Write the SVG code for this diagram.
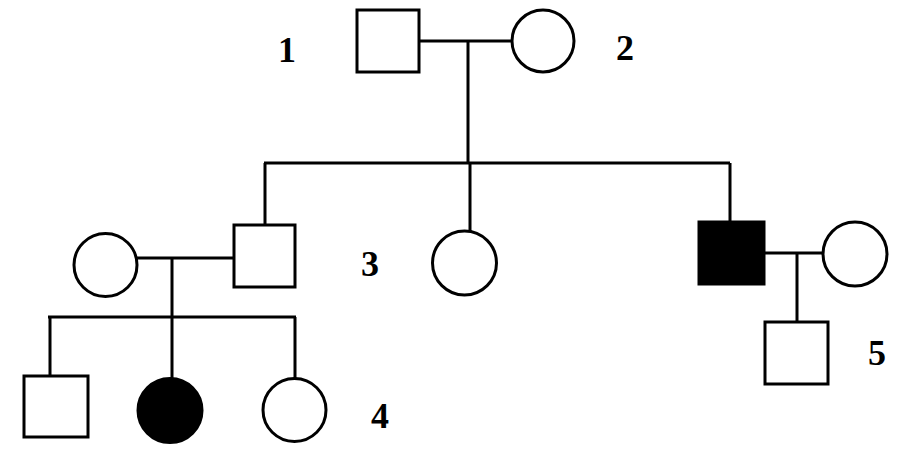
<svg xmlns="http://www.w3.org/2000/svg" width="923" height="473" viewBox="0 0 923 473">
<style>
.n{fill:#fff;stroke:#000;stroke-width:3}
.a{fill:#000;stroke:#000;stroke-width:3}
.c{fill:none;stroke:#000;stroke-width:3}
.t{font-family:"Liberation Serif",serif;font-weight:bold;font-size:36px;fill:#000}
</style>
<rect width="923" height="473" fill="#fff"/>
<g id="connectors">
<path class="c" d="M419 41H512M468 41V163M264 163H730M265 163V225M470 163V231M730 163V222"/>
<path class="c" d="M137 258H234M172 258V317M48 317H296M50 317V376M172 317V378M295 317V379"/>
<path class="c" d="M764 253H823M797 253V322"/>
</g>
<g id="n1"><rect class="n" x="357" y="10" width="62" height="62"/><text class="t" x="278" y="62">1</text></g>
<g id="n2"><circle class="n" cx="543" cy="41" r="31"/><text class="t" x="616" y="60">2</text></g>
<g id="n3"><rect class="n" x="234" y="225" width="61" height="62"/><text class="t" x="361" y="276">3</text></g>
<g id="n3w"><circle class="n" cx="105.5" cy="265" r="31.5"/></g>
<g id="nsis"><circle class="n" cx="464.5" cy="263" r="32"/></g>
<g id="naff"><rect class="a" x="699" y="222" width="65" height="62"/></g>
<g id="naffw"><circle class="n" cx="855" cy="254" r="32"/></g>
<g id="n5"><rect class="n" x="765" y="322" width="63" height="62"/><text class="t" x="868" y="365">5</text></g>
<g id="c1"><rect class="n" x="24" y="376" width="64" height="61"/></g>
<g id="c2"><circle class="a" cx="170" cy="410.5" r="32"/></g>
<g id="n4"><circle class="n" cx="294.5" cy="410" r="31.5"/><text class="t" x="371" y="428">4</text></g>
</svg>
